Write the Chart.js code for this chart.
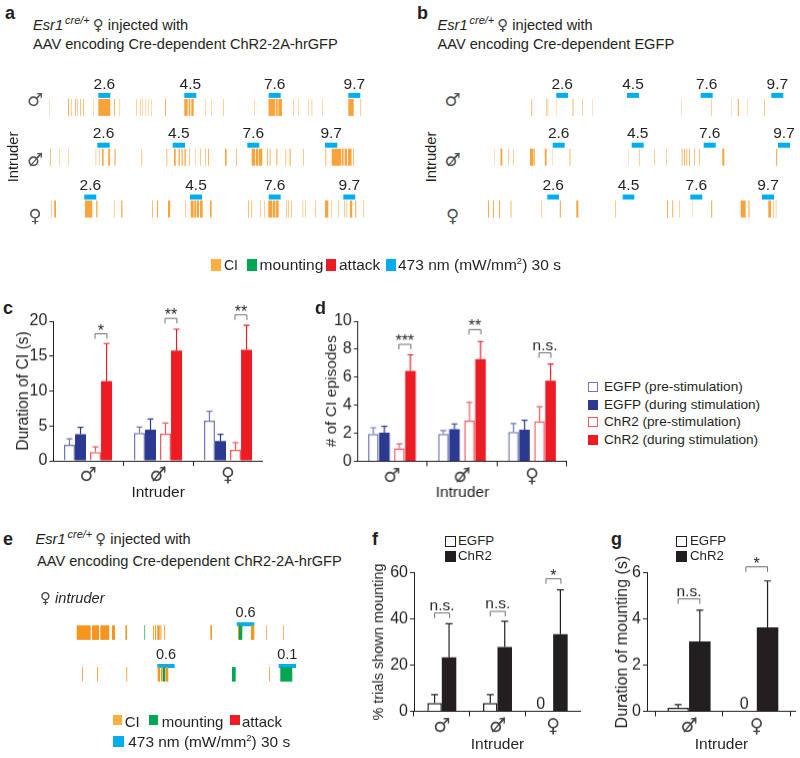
<!DOCTYPE html>
<html><head><meta charset="utf-8">
<script src="https://cdn.jsdelivr.net/npm/chart.js@4"></script>
<style>
html,body{margin:0;padding:0;background:#fff}
#page{position:relative;width:800px;height:758px;overflow:hidden;background:#fff;font-family:"Liberation Sans",Arial,sans-serif;color:#231F20;filter:blur(0.45px)}
canvas{position:absolute}
.t{position:absolute;white-space:nowrap;transform:translateY(-50%);line-height:1}
.r{position:absolute;white-space:nowrap;transform:translate(-50%,-50%) rotate(-90deg);line-height:1}
.c{position:absolute;white-space:nowrap;transform:translate(-50%,-50%);line-height:1}
.sq{position:absolute}
.s{font-family:"DejaVu Sans"}
sup.cr{font-size:11px;font-style:italic;line-height:0;vertical-align:6px;margin:0 3px 0 2px}
sup.n{font-size:9.5px;line-height:0;vertical-align:6px}
</style></head><body><div id="page"></div>
<script>
/* ---------- shared labels ---------- */
const MALE='\u2642', CAST='\u2642\u0338', FEMALE='\u2640';
const intruders3=[MALE,CAST,FEMALE];
const intruders2=[CAST,FEMALE];
const rowLevels=[0,0.98,2];

/* ---------- raster events: [start,end] along each trial's time line ---------- */
const ciA1=[[49,49.3],[68,68.9],[71,71.5],[75,75.7],[77.2,77.7],[80,80.6],[83,83.7],[93.3,93.7],[98.3,110.3],[114,114.8],[119.3,119.7],[136.5,137],[140,140.5],[142.6,143],[145.7,146.1],[148.3,148.7],[151,151.4],[165,165.9],[184.3,187.7],[188.7,190.3],[191.3,193.7],[205,205.4],[211,211.4],[223,223.5],[254,254.4],[268.5,275],[275.7,277.7],[278.3,282],[293,293.5],[298,298.4],[308,308.4],[311.7,312.2],[322,322.4],[348.3,353.7],[360,360.5]];
const ciA2=[[50,50.7],[59,59.4],[68.3,68.7],[95.7,96.2],[99,99.5],[102,103.6],[108.3,110],[114.5,115.6],[141.5,142.1],[166.5,167.2],[174,175.7],[178.6,179.8],[181.6,182.7],[184.5,185.8],[189,189.6],[195,195.4],[200,200.6],[205,205.6],[208,208.8],[225,226.6],[236,236.7],[251.7,255],[255.7,258.3],[259,262.3],[267,267.8],[269.7,270.5],[276.4,277.4],[285.5,286.1],[289.6,290.6],[303,303.6],[325.4,326.2],[331.7,341],[341.7,343.6],[344.6,347],[348,351.6],[353,353.7]];
const ciA3=[[51,51.5],[54.2,56],[85,92.3],[96.2,97.4],[114,114.5],[121.2,122.4],[152,152.7],[157,158],[168,170.2],[185,185.5],[190.7,193.7],[194.3,196.3],[197,199],[200,202.7],[210,211.6],[248,248.7],[251.4,252.1],[260,260.5],[264,264.5],[268.3,272],[272.6,275],[275.6,278.6],[286,286.6],[288.3,288.9],[291,291.6],[302.7,303.2],[305,305.5],[315,315.5],[325,328.3],[331.5,332],[338,338.5],[344.2,344.8],[346.6,347.2],[350,352.2],[355.2,356.2],[363.3,363.8]];
const ciB1=[[531.4,532.2],[546,546.5],[547.7,548.2],[556.7,557],[572.6,573.4],[582.5,583],[592.3,592.6],[681.7,682],[711.5,712],[731,731.3],[737.8,738.8],[747.7,748],[764,764.6]];
const ciB2=[[494.3,494.6],[500.5,502.3],[508,508.5],[513,513.5],[530,533.5],[534,534.8],[544.8,546.6],[552,552.3],[569.6,570.4],[628,628.3],[639.5,640],[654,654.5],[666.5,667],[681.7,682.5],[684,684.8],[686.4,687.2],[689,689.8],[694,694.6],[699,699.6],[722.3,724.3],[776.2,777.2]];
const ciB3=[[488,488.9],[493,493.9],[499,499.9],[510.6,511.4],[541.5,542],[559.8,560.8],[576.3,578.3],[615,615.6],[667,667.9],[672.3,673.2],[679,679.5],[692.3,692.6],[711.2,712.2],[740.7,745.7],[748.5,749.5],[768.3,771],[773,773.6],[775.8,776.3]];
const stimA1=[[98.3,110.3],[184.3,196.3],[268.7,280.7],[348.3,360.3]];
const stimA2=[[97.3,109.7],[172.7,185],[247.3,259.3],[325,337.3]];
const stimA3=[[84.3,96.3],[190,202],[268.7,280.7],[343.3,355.3]];
const stimB1=[[556.3,568],[627,639],[700.7,712.7],[771.3,783.3]];
const stimB2=[[552.7,564.7],[631.7,643.7],[703.7,715.7],[778,790]];
const stimB3=[[547.3,559],[622.7,634.3],[690.3,702.3],[762,774]];
const powerLabels=['2.6','4.5','7.6','9.7'];
const ciE1=[[76.7,90.7],[92,99],[100.3,109.3],[112,115],[125.4,127],[153,153.8],[155,156],[157.3,159.7],[160.4,161.4],[164,164.8],[210.4,212],[238,239],[251,254.3],[266,266.7],[283,283.7]];
const mountE1=[[144.4,145.1],[239,242.3]];
const ciE2=[[82,82.8],[97,97.8],[126.4,127.2],[157.7,160],[161,162.7],[165.7,168.3],[269,269.8]];
const mountE2=[[163,165.3],[232,235.7],[280.3,292.3]];
const stimE1=[[236.7,254.3]];
const stimE2=[[157.3,174.7],[278.7,296]];
const powerE1=['0.6'];
const powerE2=['0.6','0.1'];

/* ---------- panel c: duration of CI (s) ---------- */
const durEgfpPre=[2.3,4.0,5.75], durEgfpPreTop=[3.15,4.85,7.1];
const durEgfpDur=[3.8,4.45,2.85], durEgfpDurTop=[4.8,6.0,3.8];
const durChr2Pre=[1.25,3.9,1.6], durChr2PreTop=[2.0,5.4,2.6];
const durChr2Dur=[11.4,15.8,15.9], durChr2DurTop=[16.8,18.85,19.4];
const sigC=[[0,18.2,'*'],[1,20.4,'**'],[2,20.9,'**']];
/* ---------- panel d: number of CI episodes ---------- */
const numEgfpPre=[1.95,1.95,2.1], numEgfpPreTop=[2.4,2.2,2.7];
const numEgfpDur=[2.05,2.3,2.25], numEgfpDurTop=[2.5,2.67,2.93];
const numChr2Pre=[0.93,2.9,2.85], numChr2PreTop=[1.25,4.2,3.9];
const numChr2Dur=[6.45,7.3,5.75], numChr2DurTop=[7.6,8.55,6.95];
const sigD=[[0,8.35,'***'],[1,9.4,'**'],[2,7.74,'n.s.']];
/* ---------- panel f: % trials shown mounting ---------- */
const pctEgfp=[3.6,3.6,0], pctEgfpTop=[7.2,7.2,0];
const pctChr2=[23.4,27.9,33.4], pctChr2Top=[37.9,39,52.6];
const sigF=[[0,42.6,'n.s.'],[1,43.3,'n.s.'],[2,57.4,'*']];
/* ---------- panel g: duration of mounting (s) ---------- */
const mdurEgfp=[0.15,0], mdurEgfpTop=[0.29,0];
const mdurChr2=[3.03,3.64], mdurChr2Top=[4.38,5.65];
const sigG=[[0,4.87,'n.s.'],[1,6.26,'*']];

/* ---------- colours ---------- */
const ORANGE='#F9A33B', ORANGE2='#F7941E', GREEN='#00A651', RED='#ED1C24', CYAN='#00AEEF', NAVY='#2B3990', OPENBLUE='#6E75B8', OPENRED='#F15A60', INK='#231F20', BLACK='#231F20';
const page=document.getElementById('page');
Chart.defaults.animation=false;
Chart.defaults.font.family='"Liberation Sans",Arial,sans-serif';
Chart.defaults.color=INK;

function makeCanvas(l,t,w,h){const c=document.createElement('canvas');c.width=w;c.height=h;c.style.cssText=`left:${l}px;top:${t}px;width:${w}px;height:${h}px`;page.appendChild(c);return c;}

/* raster: floating horizontal bars on a linear row scale */
const stimLabelPlugin={id:'stimLabels',afterDatasetsDraw(ch,a,o){
  const ctx=ch.ctx;ctx.save();ctx.fillStyle=INK;ctx.font=o.font;ctx.textAlign='center';ctx.textBaseline='middle';
  ch.data.datasets.forEach((d,i)=>{if(!d.powers)return;ch.getDatasetMeta(i).data.forEach((el,k)=>{
    ctx.fillText(d.powers[k],(el.x+el.base)/2,el.y-o.gap);});});
  ctx.restore();}};
function raster(l,t,w,h,rows,labelFont,gap,thick,stimThick,stimOffset){
  const ds=[];
  rows.forEach((r)=>{
    r.events.forEach(e=>ds.push({data:e.data.map(x=>({x,y:r.level})),backgroundColor:e.color,barThickness:thick,grouped:false,inflateAmount:0,borderWidth:0}));
    ds.push({data:r.stim.map(x=>({x,y:r.level-stimOffset})),backgroundColor:CYAN,barThickness:stimThick,grouped:false,inflateAmount:0,borderWidth:0,powers:r.powers});
  });
  new Chart(makeCanvas(l,t,w,h),{type:'bar',data:{datasets:ds},plugins:[stimLabelPlugin],options:{indexAxis:'y',responsive:false,
    layout:{padding:0},
    plugins:{legend:{display:false},tooltip:{enabled:false},stimLabels:{font:labelFont,gap}},
    scales:{x:{type:'linear',min:l,max:l+w,display:false},y:{type:'linear',reverse:true,min:rows.yMin,max:rows.yMax,display:false}}}});
}
function rowsOf(y0,dy,top,bot,list){const a=list;a.yMin=(top-y0)/dy;a.yMax=(bot-y0)/dy;return a;}

/* panel a */
raster(40,60,370,175,rowsOf(100.7,59.3,60,235,[
 {level:rowLevels[0],events:[{data:ciA1,color:ORANGE}],stim:stimA1,powers:powerLabels},
 {level:rowLevels[1],events:[{data:ciA2,color:ORANGE}],stim:stimA2,powers:powerLabels},
 {level:rowLevels[2],events:[{data:ciA3,color:ORANGE}],stim:stimA3,powers:powerLabels}]),'15.5px "Liberation Sans"',11,17,5,0.236);
/* panel b */
raster(470,60,330,175,rowsOf(100.7,59.3,60,235,[
 {level:rowLevels[0],events:[{data:ciB1,color:ORANGE}],stim:stimB1,powers:powerLabels},
 {level:rowLevels[1],events:[{data:ciB2,color:ORANGE}],stim:stimB2,powers:powerLabels},
 {level:rowLevels[2],events:[{data:ciB3,color:ORANGE}],stim:stimB3,powers:powerLabels}]),'15.5px "Liberation Sans"',11,17,5,0.236);
/* panel e */
raster(60,595,260,100,rowsOf(629.5,52.2,595,695,[
 {level:0,events:[{data:ciE1,color:ORANGE2},{data:mountE1,color:GREEN}],stim:stimE1,powers:powerE1},
 {level:1,events:[{data:ciE2,color:ORANGE2},{data:mountE2,color:GREEN}],stim:stimE2,powers:powerE2}]),'14.5px "Liberation Sans"',11,14.5,4,0.2);

/* bar panels */
const annotPlugin={id:'annot',afterDatasetsDraw(ch,a,o){
  const ctx=ch.ctx,x=ch.scales.x,y=ch.scales.y;ctx.save();
  ch.data.datasets.forEach(d=>{
    d.data.forEach((p,i)=>{
      const px=x.getPixelForValue(p.x);
      if(p.y===0){ctx.fillStyle=INK;ctx.font='16px "Liberation Sans"';ctx.textAlign='right';ctx.textBaseline='alphabetic';
        ctx.fillText('0',px+d.barThickness/2-8,y.getPixelForValue(0)-3);return;}
      const yt=y.getPixelForValue(d.tops[i]),yb=y.getPixelForValue(p.y);
      ctx.strokeStyle=d.whisker;ctx.lineWidth=1.2;ctx.beginPath();ctx.moveTo(px,yb);ctx.lineTo(px,yt);
      ctx.moveTo(px-o.cap,yt);ctx.lineTo(px+o.cap,yt);ctx.stroke();
    });
  });
  o.sig.forEach(([g,level,txt])=>{
    const x0=x.getPixelForValue(g+o.bracket[0]),x1=x.getPixelForValue(g+o.bracket[1]),yy=y.getPixelForValue(level);
    ctx.strokeStyle='#6D6E71';ctx.lineWidth=1;ctx.beginPath();ctx.moveTo(x0,yy+o.leg);ctx.lineTo(x0,yy);ctx.lineTo(x1,yy);ctx.lineTo(x1,yy+o.leg);ctx.stroke();
    ctx.fillStyle=INK;ctx.textAlign='center';ctx.textBaseline='alphabetic';
    if(txt==='n.s.'){ctx.font='15.5px "Liberation Sans"';ctx.fillText(txt,(x0+x1)/2,yy-3);}
    else{ctx.font='16px "Liberation Sans"';ctx.fillText(txt,(x0+x1)/2,yy+2);}
  });
  ctx.restore();}};
function barPanel(c){
  const w=c.right-c.titleX+9, h=c.canvasBottom-c.top, l=c.titleX-9;
  new Chart(makeCanvas(l,c.top,w,h),{type:'bar',
    data:{datasets:c.series.map(s=>({data:s.values.map((v,i)=>({x:i+s.offset,y:v})),tops:s.tops,whisker:s.line||s.fill,
      backgroundColor:s.fill,borderColor:s.line||s.fill,borderWidth:s.line?1.5:0,barThickness:c.thick,grouped:false,inflateAmount:0}))},
    plugins:[annotPlugin],
    options:{responsive:false,layout:{padding:{top:c.axisTop-c.top,left:0,right:0,bottom:0}},
      plugins:{legend:{display:false},tooltip:{enabled:false},annot:{sig:c.sig,bracket:c.bracket,cap:c.cap,leg:5}},
      scales:{
        x:{type:'linear',min:c.xMin,max:c.xMax,offset:false,
          afterBuildTicks:s=>{s.ticks=c.cats.map((_,i)=>({value:i}));},
          afterFit:s=>{s.height=c.canvasBottom-c.axisBottom;},
          grid:{display:true,drawOnChartArea:false,drawTicks:true,tickLength:5,color:INK},
          border:{color:INK,width:1},
          ticks:{callback:v=>c.cats[v],autoSkip:false,maxRotation:0,minRotation:0,padding:-1,color:'#444',font:{family:'"DejaVu Sans"',size:19}},
          title:{display:true,text:'Intruder',color:INK,font:{size:15.5},padding:0}},
        y:{type:'linear',min:0,max:c.yMax,
          afterBuildTicks:s=>{s.ticks=c.yTicks.map(v=>({value:v}));},
          afterFit:s=>{s.width=c.axisX-l;},
          grid:{display:true,drawOnChartArea:false,drawTicks:true,tickLength:4,color:INK},
          border:{color:INK,width:1},
          ticks:{padding:2,color:INK,font:{size:16}},
          title:{display:true,text:c.yTitle,color:INK,font:{size:c.yTitleSize},padding:0}}
      }}});
}
const offs4=[-0.265,-0.107,0.107,0.265];
barPanel({titleX:23,top:290,axisTop:321,axisBottom:460.5,axisX:53.3,right:263,canvasBottom:501.5,xMin:-0.496,xMax:2.5,yMax:20,yTicks:[0,5,10,15,20],cats:intruders3,thick:11,cap:3,bracket:[0.1,0.27],sig:sigC,yTitle:'Duration of CI (s)',yTitleSize:15.6,
  series:[{values:durEgfpPre,tops:durEgfpPreTop,offset:offs4[0],fill:'#fff',line:OPENBLUE},{values:durEgfpDur,tops:durEgfpDurTop,offset:offs4[1],fill:NAVY},{values:durChr2Pre,tops:durChr2PreTop,offset:offs4[2],fill:'#fff',line:OPENRED},{values:durChr2Dur,tops:durChr2DurTop,offset:offs4[3],fill:RED}]});
barPanel({titleX:332,top:290,axisTop:321,axisBottom:461,axisX:357.7,right:566.7,canvasBottom:501.5,xMin:-0.486,xMax:2.5,yMax:10,yTicks:[0,2,4,6,8,10],cats:intruders3,thick:10.5,cap:3,bracket:[0.1,0.27],sig:sigD,yTitle:'# of CI episodes',yTitleSize:15.4,
  series:[{values:numEgfpPre,tops:numEgfpPreTop,offset:offs4[0],fill:'#fff',line:OPENBLUE},{values:numEgfpDur,tops:numEgfpDurTop,offset:offs4[1],fill:NAVY},{values:numChr2Pre,tops:numChr2PreTop,offset:offs4[2],fill:'#fff',line:OPENRED},{values:numChr2Dur,tops:numChr2DurTop,offset:offs4[3],fill:RED}]});
barPanel({titleX:379,top:555,axisTop:572.7,axisBottom:711,axisX:414,right:581,canvasBottom:753.5,xMin:-0.5,xMax:2.5,yMax:60,yTicks:[0,20,40,60],cats:intruders3,thick:14.5,cap:3.5,bracket:[-0.13,0.14],sig:sigF,yTitle:'% trials shown mounting',yTitleSize:14.4,
  series:[{values:pctEgfp,tops:pctEgfpTop,offset:-0.13,fill:'#fff',line:BLACK},{values:pctChr2,tops:pctChr2Top,offset:0.13,fill:BLACK}]});
barPanel({titleX:622,top:555,axisTop:572.7,axisBottom:711,axisX:647,right:796,canvasBottom:753.5,xMin:-0.62,xMax:1.58,yMax:6,yTicks:[0,2,4,6],cats:intruders2,thick:21.5,cap:3.5,bracket:[-0.16,0.16],sig:sigG,yTitle:'Duration of mounting (s)',yTitleSize:16,
  series:[{values:mdurEgfp,tops:mdurEgfpTop,offset:-0.16,fill:'#fff',line:BLACK},{values:mdurChr2,tops:mdurChr2Top,offset:0.16,fill:BLACK}]});

/* ---------- page text ---------- */
function text(cls,x,y,size,html,extra){const d=document.createElement('div');d.className=cls;d.style.cssText=`left:${x}px;top:${y}px;font-size:${size}px;`+(extra||'');d.innerHTML=html;page.appendChild(d);}
function swatch(x,y,w,h,fill,line){const d=document.createElement('div');d.className='sq';d.style.cssText=`left:${x}px;top:${y}px;width:${w}px;height:${h}px;background:${fill};box-sizing:border-box;`+(line?`border:1.5px solid ${line};`:'');page.appendChild(d);}
[['a',5,13],['b',417,13],['c',3,308],['d',315,308],['e',3,539],['f',372,539],['g',611,539]].forEach(([s,x,y])=>text('t',x,y,18,s,'font-weight:bold;'));
const head=(x,y,sz,rest)=>{text('t',x,y,sz,`<i>Esr1</i><sup class="cr">cre/+</sup><span class="s" style="font-size:15px;color:#444">${FEMALE}</span> ${rest}`);};
head(33,25,14.6,'injected with');
text('t',33,44,14.6,'AAV encoding Cre-dependent ChR2-2A-hrGFP');
head(437.5,25,14.6,'injected with');
text('t',437.5,44,14.6,'AAV encoding Cre-dependent EGFP');
head(35.5,539,14.6,'injected with');
text('t',37,561,14.6,'AAV encoding Cre-dependent ChR2-2A-hrGFP');
text('t',40,598,14.6,`<span class="s" style="font-size:15px;color:#444">${FEMALE}</span> <i>intruder</i>`);
[[35,100],[35,160],[35,216]].forEach(([x,y],i)=>text('c s',x,y,18,intruders3[i],'color:#555;'));
[[452.7,100],[452.7,160],[452.7,216]].forEach(([x,y],i)=>text('c s',x,y,18,intruders3[i],'color:#555;'));
text('r',13,157,14.7,'Intruder');
text('r',430.7,157,14.7,'Intruder');
/* middle legend */
swatch(211,259,10,11.5,'#FBB040');text('t',224,265,14,'CI');
swatch(247,259,10,11.5,GREEN);text('t',259.5,265,15.5,'mounting');
swatch(326,259,10,11.5,RED);text('t',339,265,15.5,'attack');
swatch(386,259,10,11.5,CYAN);text('t',398,265,15.5,'473 nm (mW/mm<sup class="n">2</sup>) 30 s');
/* panel d legend */
[['EGFP (pre-stimulation)','#fff',OPENBLUE,387],['EGFP (during stimulation)',NAVY,null,405],['ChR2 (pre-stimulation)','#fff',OPENRED,422],['ChR2 (during stimulation)',RED,null,440]].forEach(([s,f,l,y])=>{swatch(588,y-5,10,10,f,l);text('t',604,y,13.6,s);});
/* panel e legend */
swatch(112.7,714.7,9.5,10.5,'#FBB040');text('t',124.7,720.7,15,'CI');
swatch(148.7,714.7,9.5,10.5,GREEN);text('t',161.7,720.7,15,'mounting');
swatch(230,714.7,9.5,10.5,RED);text('t',242,720.7,15,'attack');
swatch(112.7,736,11.5,10.5,CYAN);text('t',128.3,741.7,15.4,'473 nm (mW/mm<sup class="n">2</sup>) 30 s');
/* panel f, g legends */
[[445,458],[676,690]].forEach(([sx,tx])=>{swatch(sx,536,10.5,10.5,'#fff',BLACK);text('t',tx,541,13.3,'EGFP');swatch(sx,551,10.5,10.5,BLACK);text('t',tx,556,13.3,'ChR2');});
</script></body></html>
